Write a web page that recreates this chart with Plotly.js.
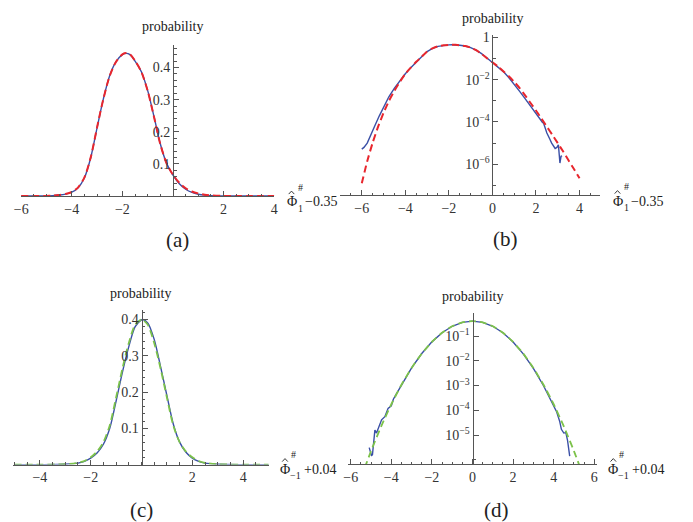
<!DOCTYPE html>
<html><head><meta charset="utf-8">
<script src="https://cdn.plot.ly/plotly-3.0.1.min.js"></script>
<style>html,body{margin:0;padding:0;background:#fff}#plot{width:693px;height:522px}</style>
</head><body><div id="plot"></div>
<script>
// ---------- data ----------
// panel (a): linear probability, Phi_1 - 0.35
const xA = [-6,-5.5,-5,-4.75,-4.5,-4.25,-4,-3.75,-3.5,-3.25,-3,-2.75,-2.5,-2.25,-2,-1.85,-1.7,-1.5,-1.25,-1,-0.75,-0.5,-0.25,0,0.25,0.5,0.75,1,1.25,1.5,2,2.5,3,3.5,4];
const blueA = [0,0.0001,0.0005,0.0012,0.003,0.006,0.012,0.026,0.057,0.12,0.213,0.303,0.375,0.418,0.44,0.444,0.44,0.42,0.387,0.328,0.247,0.162,0.101,0.065,0.038,0.021,0.011,0.0055,0.0027,0.0013,0.0003,0.00003,0,0,0];
const redA = [0,0.00003,0.0003,0.001,0.0028,0.0062,0.0125,0.027,0.058,0.121,0.214,0.303,0.374,0.418,0.441,0.445,0.441,0.421,0.386,0.327,0.246,0.161,0.101,0.066,0.041,0.024,0.014,0.008,0.004,0.0018,0.00035,0.00006,0.00001,0.0000015,0.0000002];

// panel (b): log probability, Phi_1 - 0.35
const xBblue = [-6,-5.9,-5.75,-5.6,-5.4,-5.2,-5,-4.75,-4.5,-4.25,-4,-3.75,-3.5,-3.25,-3,-2.75,-2.5,-2.25,-2,-1.85,-1.7,-1.5,-1.25,-1,-0.75,-0.5,-0.25,0,0.25,0.5,0.75,1,1.25,1.5,1.75,2,2.19,2.3,2.35,2.45,2.5,2.65,2.72,2.88,2.96,3.03,3.1,3.15,3.2];
const blueB = [5.2e-6,6.3e-6,1.0e-5,2.4e-5,6.6e-5,1.9e-4,5.2e-4,1.6e-3,4.0e-3,9.1e-3,0.019,0.037,0.069,0.12,0.213,0.30,0.375,0.418,0.44,0.444,0.44,0.42,0.387,0.328,0.247,0.17,0.105,0.066,0.04,0.024,0.0126,0.0063,0.0028,0.00126,5.6e-4,2.5e-4,1.26e-4,9.5e-5,8.7e-5,4.5e-5,3.0e-5,1.45e-5,1.0e-5,5.6e-6,6.3e-6,8.3e-6,1.15e-6,2.4e-6,2.5e-6];
const xBred = [-6,-5.75,-5.5,-5.25,-5,-4.75,-4.5,-4.25,-4,-3.75,-3.5,-3.25,-3,-2.75,-2.5,-2.25,-2,-1.85,-1.7,-1.5,-1.25,-1,-0.75,-0.5,-0.25,0,0.25,0.5,0.75,1,1.25,1.5,1.75,2,2.25,2.5,2.75,3,3.25,3.5,3.75,4];
const redB = [1.26e-7,1.4e-6,1.05e-5,6.0e-5,2.7e-4,1.0e-3,3.0e-3,7.9e-3,0.019,0.037,0.07,0.121,0.214,0.303,0.374,0.418,0.441,0.445,0.441,0.421,0.386,0.327,0.246,0.165,0.103,0.066,0.042,0.025,0.0145,0.0079,0.004,0.0018,7.9e-4,3.5e-4,1.45e-4,6.0e-5,2.5e-5,1.0e-5,4.0e-6,1.5e-6,5.8e-7,2.2e-7];

// panel (c): linear probability, Phi_-1 + 0.04
const xC = [-5,-4,-3,-2.5,-2.25,-2,-1.75,-1.5,-1.25,-1,-0.75,-0.5,-0.25,0,0.05,0.25,0.5,0.75,1,1.25,1.5,1.75,2,2.25,2.5,3,4,5];
const blueC = [0,0,0.001,0.004,0.009,0.018,0.032,0.056,0.1,0.175,0.255,0.325,0.38,0.399,0.4,0.39,0.345,0.27,0.19,0.112,0.062,0.034,0.018,0.009,0.004,0.001,0,0];
const greenC = [0,0,0.001,0.005,0.01,0.02,0.036,0.062,0.108,0.185,0.265,0.335,0.385,0.4,0.399,0.385,0.335,0.265,0.185,0.108,0.062,0.036,0.02,0.01,0.005,0.001,0,0];

// panel (d): log probability, Phi_-1 + 0.04
const xDblue = [-5.09,-4.98,-4.93,-4.81,-4.73,-4.6,-4.48,-4.32,-4.16,-4,-3.9,-3.75,-3.5,-3,-2.5,-2,-1.5,-1,-0.5,0,0.5,1,1.5,2,2.5,3,3.5,3.8,4,4.15,4.3,4.38,4.5,4.6,4.68,4.79];
const blueD = [3.1e-6,1.5e-6,1.6e-6,1.6e-5,1.2e-5,2.5e-5,4.1e-5,5.5e-5,1.2e-4,1.5e-4,2.8e-4,4.6e-4,1.07e-3,5.2e-3,0.0196,0.058,0.135,0.247,0.354,0.4,0.354,0.247,0.135,0.0575,0.019,4.9e-3,9.8e-4,3.3e-4,1.5e-4,8.5e-5,3.5e-5,1.7e-5,1.2e-5,1.25e-5,6.3e-6,1.4e-6];
const xDgreen = [-5.5,-5,-4.5,-4,-3.5,-3,-2.5,-2,-1.5,-1,-0.5,0,0.5,1,1.5,2,2.5,3,3.5,4,4.5,5,5.5];
const greenD = [1.8e-7,2.25e-6,2.24e-5,1.75e-4,1.07e-3,5.15e-3,0.0195,0.0578,0.135,0.247,0.354,0.4,0.354,0.247,0.135,0.0578,0.0195,5.15e-3,1.07e-3,1.75e-4,2.24e-5,2.25e-6,1.8e-7];

// tick labels
const xTicksA = [-6,-4,-2,2,4];
const xTicksB = [-6,-4,-2,0,2,4];
const xTicksC = [-4,-2,2,4];
const xTicksD = [-6,-4,-2,0,2,4,6];
const yTicksLin = [0.1,0.2,0.3,0.4];
const yTicksB = [1,1e-2,1e-4,1e-6];
const yTextB = ['1','10<sup>−2</sup>','10<sup>−4</sup>','10<sup>−6</sup>'];
const yTicksD = [1e-1,1e-2,1e-3,1e-4,1e-5];
const yTextD = ['10<sup>−1</sup>','10<sup>−2</sup>','10<sup>−3</sup>','10<sup>−4</sup>','10<sup>−5</sup>'];

// ---------- styling ----------
const W = 693, H = 522;
const FONT = '"Liberation Serif", "Times New Roman", Times, serif';
const AX = '#555';
const TXT = '#333';
const BLUE = '#3A4FA6';
const RED = '#E8262D';
const GREEN = '#7CC24A';

function xdom(a, b) { return [a / W, b / W]; }
function ydom(top, bot) { return [1 - bot / H, 1 - top / H]; }

function xAxis(range, dom, tv, anchor) {
  return {range: range, domain: dom, anchor: anchor, showline: true, linecolor: AX, linewidth: 1,
    ticks: 'inside', ticklen: 5, tickwidth: 1, tickcolor: AX, tickmode: 'array', tickvals: tv,
    tickfont: {family: FONT, size: 14, color: TXT}, showgrid: false, zeroline: false, fixedrange: true,
    minor: {tickmode: 'linear', tick0: 0, dtick: 0.5, ticks: 'inside', ticklen: 2.5, tickcolor: AX, tickwidth: 1, showgrid: false}};
}
function yAxis(range, dom, xr, xd, type, tv, tt, minor) {
  const pos = xd[0] + (0 - xr[0]) / (xr[1] - xr[0]) * (xd[1] - xd[0]);
  const ax = {range: range, domain: dom, anchor: 'free', position: pos, side: 'left', type: type,
    showline: true, linecolor: AX, linewidth: 1, ticks: 'inside', ticklen: 5, tickwidth: 1, tickcolor: AX,
    tickmode: 'array', tickvals: tv, tickfont: {family: FONT, size: 14, color: TXT},
    showgrid: false, zeroline: false, fixedrange: true, minor: minor};
  if (tt) ax.ticktext = tt;
  return ax;
}

const xrA = [-6.02, 4.0], xdA = xdom(20.7, 274.2);
const xrB = [-7.0, 4.94], xdB = xdom(340, 600);
const xrC = [-5.07, 5.03], xdC = xdom(12.7, 269.3);
const xrD = [-6.12, 6.12], xdD = xdom(348.3, 596.7);

const layout = {
  width: W, height: H, margin: {l: 0, r: 0, t: 0, b: 0},
  font: {family: FONT, color: TXT},
  paper_bgcolor: '#fff', plot_bgcolor: 'rgba(0,0,0,0)', showlegend: false,
  xaxis: xAxis(xrA, xdA, xTicksA, 'y'),
  yaxis: yAxis([0, 0.47], ydom(45, 196), xrA, xdA, 'linear', yTicksLin, null,
    {tickmode: 'linear', tick0: 0, dtick: 0.02, ticks: 'inside', ticklen: 2.5, tickcolor: AX, showgrid: false}),
  xaxis2: xAxis(xrB, xdB, xTicksB, 'y2'),
  yaxis2: yAxis([-7.45, 0.11], ydom(35, 195), xrB, xdB, 'log', yTicksB, yTextB,
    {tickmode: 'array', tickvals: [1e-1, 1e-3, 1e-5, 1e-7], ticks: 'inside', ticklen: 2.5, tickcolor: AX, showgrid: false}),
  xaxis3: xAxis(xrC, xdC, xTicksC, 'y3'),
  yaxis3: yAxis([0, 0.426], ydom(310, 464.6), xrC, xdC, 'linear', yTicksLin, null,
    {tickmode: 'linear', tick0: 0, dtick: 0.02, ticks: 'inside', ticklen: 2.5, tickcolor: AX, showgrid: false}),
  xaxis4: xAxis(xrD, xdD, xTicksD, 'y4'),
  yaxis4: yAxis([-6.17, -0.083], ydom(313.3, 464), xrD, xdD, 'log', yTicksD, yTextD,
    {tickmode: 'array', tickvals: [1e-6], ticks: 'inside', ticklen: 2.5, tickcolor: AX, showgrid: false}),
  annotations: [],
  shapes: []
};

function ann(text, px, py, size, extra) {
  const a = {text: text, x: px / W, y: 1 - py / H, xref: 'paper', yref: 'paper', showarrow: false,
    xanchor: 'center', yanchor: 'middle', font: {family: FONT, size: size, color: '#222'}};
  return Object.assign(a, extra || {});
}
const A = layout.annotations;
// panel captions
A.push(ann('(a)', 177, 240, 21), ann('(b)', 505, 239, 21), ann('(c)', 141, 510, 21), ann('(d)', 497, 510, 21));
// y titles
A.push(ann('probability', 172, 27, 14), ann('probability', 492, 19, 14), ann('probability', 140, 293, 14), ann('probability', 472, 296, 14));
// x titles: hat-Phi with stacked superscript # and subscript; the hat is a small caret shape
function hat(px, py) {
  const fx = v => (v / W).toFixed(5), fy = v => (1 - v / H).toFixed(5);
  layout.shapes.push({type: 'path', xref: 'paper', yref: 'paper',
    path: 'M' + fx(px - 2.8) + ',' + fy(py + 1.6) + ' L' + fx(px) + ',' + fy(py - 1.4) + ' L' + fx(px + 2.8) + ',' + fy(py + 1.6),
    line: {color: '#222', width: 0.9}});
}
function xlab(px, py, sub, tail) {
  A.push(ann('Φ', px, py, 14));
  hat(px, py - 9.5);
  A.push(ann('#', px + 8.5, py - 15, 10));
  A.push(ann(sub, px + 8.5 + (sub.length > 1 ? 1.5 : 0), py + 6, 10));
  A.push(ann(tail, px + 8.5 + (sub.length > 1 ? 5 : 0) + 21, py, 14));
}
xlab(291.5, 202, '1', '−0.35');
xlab(617.5, 201.5, '1', '−0.35');
xlab(285, 469.5, '−1', '+0.04');
xlab(613.3, 469.5, '−1', '+0.04');

const lineB = {color: BLUE, width: 1.4};
const traces = [
  {x: xA, y: blueA, xaxis: 'x', yaxis: 'y', mode: 'lines', line: Object.assign({shape: 'spline', smoothing: 0.8}, lineB), hoverinfo: 'skip'},
  {x: xA, y: redA, xaxis: 'x', yaxis: 'y', mode: 'lines', line: {color: RED, width: 2, dash: '7px,4px', shape: 'spline', smoothing: 0.8}, hoverinfo: 'skip'},
  {x: xBblue, y: blueB, xaxis: 'x2', yaxis: 'y2', mode: 'lines', line: lineB, hoverinfo: 'skip'},
  {x: xBred, y: redB, xaxis: 'x2', yaxis: 'y2', mode: 'lines', line: {color: RED, width: 2, dash: '7px,4px', shape: 'spline', smoothing: 0.5}, hoverinfo: 'skip'},
  {x: xC, y: blueC, xaxis: 'x3', yaxis: 'y3', mode: 'lines', line: Object.assign({shape: 'spline', smoothing: 0.8}, lineB), hoverinfo: 'skip'},
  {x: xC, y: greenC, xaxis: 'x3', yaxis: 'y3', mode: 'lines', line: {color: GREEN, width: 1.8, dash: '7px,4px', shape: 'spline', smoothing: 0.8}, hoverinfo: 'skip'},
  {x: xDblue, y: blueD, xaxis: 'x4', yaxis: 'y4', mode: 'lines', line: lineB, hoverinfo: 'skip'},
  {x: xDgreen, y: greenD, xaxis: 'x4', yaxis: 'y4', mode: 'lines', line: {color: GREEN, width: 1.8, dash: '7px,4px', shape: 'spline', smoothing: 0.5}, hoverinfo: 'skip'}
];

Plotly.newPlot('plot', traces, layout, {staticPlot: true, displayModeBar: false});
</script>
</body></html>
